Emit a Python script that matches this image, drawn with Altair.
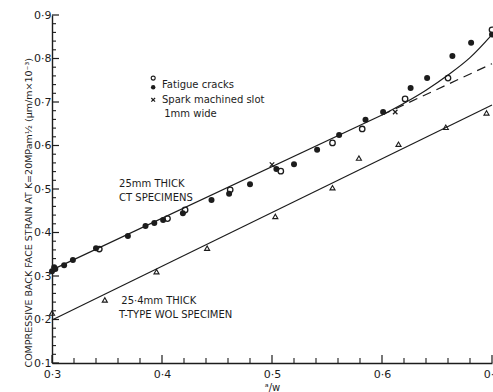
import altair as alt
import pandas as pd

# ---------------- data ----------------
# CT specimens, fatigue cracks (filled circles)
filled_x = [0.300, 0.302, 0.303, 0.311, 0.319, 0.340, 0.369, 0.385, 0.393, 0.401,
            0.419, 0.445, 0.461, 0.480, 0.504, 0.520, 0.541, 0.561, 0.585, 0.601,
            0.626, 0.641, 0.664, 0.681, 0.700]
filled_y = [0.311, 0.320, 0.316, 0.325, 0.337, 0.364, 0.392, 0.415, 0.422, 0.429,
            0.444, 0.475, 0.489, 0.511, 0.546, 0.557, 0.590, 0.624, 0.659, 0.677,
            0.732, 0.755, 0.806, 0.836, 0.855]
# CT specimens, fatigue cracks (open circles)
open_x = [0.343, 0.405, 0.421, 0.462, 0.508, 0.555, 0.582, 0.621, 0.660, 0.700]
open_y = [0.362, 0.432, 0.452, 0.498, 0.541, 0.606, 0.638, 0.707, 0.755, 0.866]
# spark machined slots (crosses)
spark_x = [0.500, 0.612]
spark_y = [0.556, 0.677]
# T-type WOL specimen (triangles)
wol_x = [0.300, 0.348, 0.395, 0.441, 0.503, 0.555, 0.579, 0.615, 0.658, 0.695]
wol_y = [0.215, 0.245, 0.310, 0.364, 0.437, 0.503, 0.571, 0.603, 0.642, 0.675]

# fitted lines
ct_line_x = [0.30, 0.60]
ct_line_y = [0.314, 0.670]
ct_dash_x = [0.60, 0.70]
ct_dash_y = [0.670, 0.788]
ct_curve_x = [0.60, 0.62, 0.64, 0.66, 0.68, 0.70]
ct_curve_y = [0.670, 0.697, 0.727, 0.762, 0.802, 0.855]
wol_line_x = [0.30, 0.70]
wol_line_y = [0.199, 0.693]

# axis ticks
x_major = [0.3, 0.4, 0.5, 0.6, 0.7]
x_minor = [0.32, 0.34, 0.36, 0.38, 0.42, 0.44, 0.46, 0.48, 0.52, 0.54, 0.56, 0.58,
           0.62, 0.64, 0.66, 0.68]
y_major = [0.1, 0.2, 0.3, 0.4, 0.5, 0.6, 0.7, 0.8, 0.9]
y_minor = [0.12, 0.14, 0.16, 0.18, 0.22, 0.24, 0.26, 0.28, 0.32, 0.34, 0.36, 0.38,
           0.42, 0.44, 0.46, 0.48, 0.52, 0.54, 0.56, 0.58, 0.62, 0.64, 0.66, 0.68,
           0.72, 0.74, 0.76, 0.78, 0.82, 0.84, 0.86, 0.88]

# annotations (anchored in data coordinates)
note_text = ["Fatigue cracks", "Spark machined slot", "1mm wide",
             "25mm THICK", "CT SPECIMENS", "25·4mm THICK", "T-TYPE WOL SPECIMEN"]
note_x = [0.400, 0.400, 0.402, 0.361, 0.361, 0.363, 0.361]
note_y = [0.739, 0.705, 0.672, 0.511, 0.480, 0.243, 0.210]
key_open = (0.392, 0.755)
key_filled = (0.392, 0.734)
key_cross = (0.392, 0.705)

# ---------------- chart ----------------
INK = "#1c1c1c"
FONT = "DejaVu Sans"
XS = alt.Scale(domain=[0.3, 0.7], nice=False, zero=False)
YS = alt.Scale(domain=[0.1, 0.9], nice=False, zero=False)
LBL = "replace(format(datum.value, '.1f'), '.', '·')"
XMARK = "M-1,-1L1,1M1,-1L-1,1"

x_axis = alt.Axis(values=x_major, labelExpr=LBL, ticks=False, grid=False,
                  domainColor=INK, domainWidth=1.4, labelFont=FONT, labelFontSize=11,
                  labelColor=INK, labelPadding=5, labelFlush=False,
                  title="ᵃ/w", titleFont=FONT, titleFontSize=10, titleFontWeight="normal",
                  titleColor=INK, titleX=220, titleY=24, titleBaseline="middle")
y_axis = alt.Axis(values=y_major, labelExpr=LBL, ticks=False, grid=False,
                  domainColor=INK, domainWidth=1.4, labelFont=FONT, labelFontSize=11,
                  labelColor=INK, labelPadding=1, labelFlush=False,
                  title="COMPRESSIVE BACK FACE STRAIN AT K=20MPam½ (µm/m×10⁻³)",
                  titleFont=FONT, titleFontSize=9.5, titleFontWeight="normal",
                  titleColor=INK, titleAngle=-90, titleX=-24, titleY=352,
                  titleAlign="left", titleBaseline="middle")


def xy(xs, ys):
    return pd.DataFrame({"x": xs, "y": ys})


def line(xs, ys, dash=None, interp="linear"):
    kw = dict(color=INK, strokeWidth=1.2, interpolate=interp)
    if dash:
        kw["strokeDash"] = dash
    return alt.Chart(xy(xs, ys)).mark_line(**kw).encode(
        x=alt.X("x:Q", scale=XS, axis=x_axis), y=alt.Y("y:Q", scale=YS, axis=y_axis))


def enc():
    return dict(x=alt.X("x:Q", scale=XS), y=alt.Y("y:Q", scale=YS))


layers = [
    line(ct_line_x, ct_line_y),
    line(ct_dash_x, ct_dash_y, dash=[9, 6]),
    line(ct_curve_x, ct_curve_y, interp="monotone"),
    line(wol_line_x, wol_line_y),
]

# ticks pointing into the plot
layers.append(alt.Chart(pd.DataFrame({"v": y_major})).mark_rule(color=INK, strokeWidth=1.2)
              .encode(y=alt.Y("v:Q", scale=YS), x=alt.value(0), x2=alt.value(7)))
layers.append(alt.Chart(pd.DataFrame({"v": y_minor})).mark_rule(color=INK, strokeWidth=1.1)
              .encode(y=alt.Y("v:Q", scale=YS), x=alt.value(0), x2=alt.value(4)))
layers.append(alt.Chart(pd.DataFrame({"v": x_major})).mark_rule(color=INK, strokeWidth=1.2)
              .encode(x=alt.X("v:Q", scale=XS), y=alt.value(348), y2=alt.value(340)))
layers.append(alt.Chart(pd.DataFrame({"v": x_minor})).mark_rule(color=INK, strokeWidth=1.1)
              .encode(x=alt.X("v:Q", scale=XS), y=alt.value(348), y2=alt.value(343)))

# data points
layers.append(alt.Chart(xy(filled_x, filled_y)).mark_point(
    shape="circle", filled=True, size=36, color=INK, opacity=1).encode(**enc()))
layers.append(alt.Chart(xy(open_x, open_y)).mark_point(
    shape="circle", filled=False, size=30, color=INK, strokeWidth=1.3, opacity=1).encode(**enc()))
layers.append(alt.Chart(xy(spark_x, spark_y)).mark_point(
    shape=XMARK, filled=False, size=20, color=INK, strokeWidth=1.3, opacity=1).encode(**enc()))
layers.append(alt.Chart(xy(wol_x, wol_y)).mark_point(
    shape="triangle-up", filled=False, size=26, color=INK, strokeWidth=1.1, opacity=1).encode(**enc()))

# key symbols
layers.append(alt.Chart(xy([key_open[0]], [key_open[1]])).mark_point(
    shape="circle", filled=False, size=16, color=INK, strokeWidth=1.1, opacity=1).encode(**enc()))
layers.append(alt.Chart(xy([key_filled[0]], [key_filled[1]])).mark_point(
    shape="circle", filled=True, size=20, color=INK, opacity=1).encode(**enc()))
layers.append(alt.Chart(xy([key_cross[0]], [key_cross[1]])).mark_point(
    shape=XMARK, filled=False, size=14, color=INK, strokeWidth=1.2, opacity=1).encode(**enc()))

# annotation text
notes = pd.DataFrame({"x": note_x, "y": note_y, "t": note_text})
layers.append(alt.Chart(notes).mark_text(
    align="left", baseline="middle", font=FONT, fontSize=10, color=INK).encode(
    x=alt.X("x:Q", scale=XS), y=alt.Y("y:Q", scale=YS), text="t:N"))

chart = alt.layer(*layers).properties(
    width=440, height=348, autosize="none",
    padding={"left": 52, "top": 15, "right": 1, "bottom": 29},
    background="white",
).configure_view(stroke=None)

chart.save("out.html", embed_options={"renderer": "svg", "actions": False})
